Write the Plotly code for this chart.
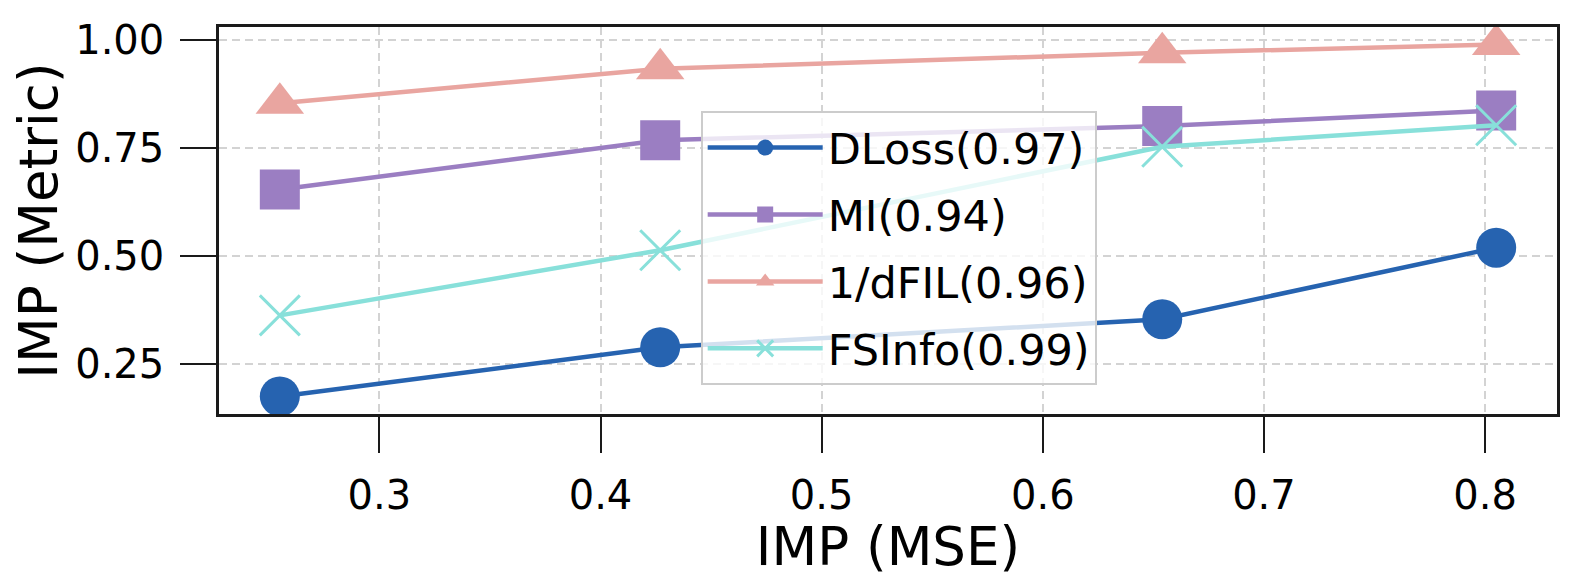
import plotly.graph_objects as go

# data
imp_mse = [0.255, 0.427, 0.654, 0.805]

dloss = [0.174, 0.288, 0.353, 0.519]
mi = [0.654, 0.768, 0.801, 0.837]
inv_dfil = [0.854, 0.934, 0.971, 0.990]
fsinfo = [0.362, 0.513, 0.753, 0.803]

names = ['DLoss(0.97)', 'MI(0.94)', '1/dFIL(0.96)', 'FSInfo(0.99)']
colors = ['#2663B0', '#9B7EC2', '#E9A5A0', '#88E0DA']
symbols = ['circle', 'square', 'triangle-up', 'x-thin']
sizes = [40, 40, 42, 40]

x_ticks = [0.3, 0.4, 0.5, 0.6, 0.7, 0.8]
y_ticks = [0.25, 0.50, 0.75, 1.00]

fig = go.Figure()

for ys, name, col, sym, sz in zip([dloss, mi, inv_dfil, fsinfo], names, colors, symbols, sizes):
    marker = dict(symbol=sym, size=sz, color=col)
    if sym == 'x-thin':
        marker['line'] = dict(color=col, width=3)
    else:
        marker['line'] = dict(width=0)
    fig.add_trace(go.Scatter(
        x=imp_mse, y=ys, name=name, legendgroup=name,
        mode='lines+markers',
        line=dict(color=col, width=4.5),
        marker=marker,
    ))

axis_common = dict(
    showline=True, linecolor='#1a1a1a', linewidth=2.5, mirror=True,
    ticks='outside', ticklen=36, tickwidth=2, tickcolor='#1a1a1a',
    showgrid=True, gridcolor='#d3d3d3', gridwidth=1.5, griddash='8px,5px',
    zeroline=False,
    tickfont=dict(size=40, color='black'),
    ticklabelstandoff=8,
)

fig.update_xaxes(
    **axis_common,
    range=[0.2275, 0.8325],
    tickvals=x_ticks, tickformat='.1f',
    title=dict(text='IMP (MSE)', font=dict(size=53, color='black'), standoff=12),
)
fig.update_yaxes(
    **axis_common,
    range=[0.1332, 1.0308],
    tickvals=y_ticks, tickformat='.2f',
    title=dict(text='IMP (Metric)', font=dict(size=53, color='black'), standoff=14),
)

# the page body keeps an 8px margin, so the figure is 16px smaller than the window
fig.update_layout(
    width=1562, height=569,
    margin=dict(l=211, r=10, t=12, b=157),
    plot_bgcolor='white', paper_bgcolor='white',
    font=dict(family='DejaVu Sans', color='black'),
    legend=dict(
        x=0.36, y=0.7825, xanchor='left', yanchor='top',
        bgcolor='rgba(255,255,255,0.8)', bordercolor='#cccccc', borderwidth=2,
        font=dict(size=43, color='black'),
        itemwidth=115, tracegroupgap=8, traceorder='grouped',
    ),
    showlegend=True,
)

fig.write_html('out.html')
